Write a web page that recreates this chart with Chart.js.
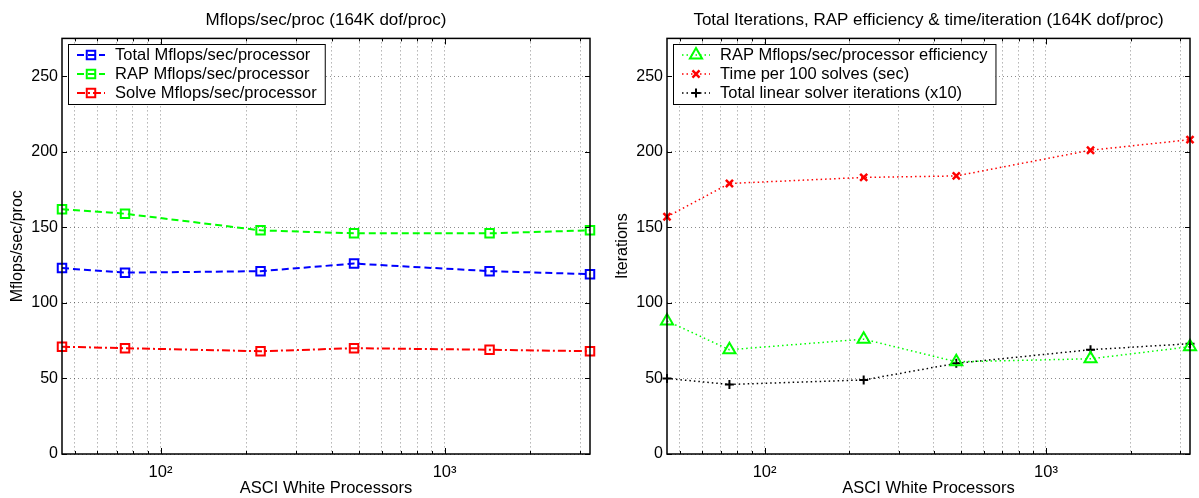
<!DOCTYPE html>
<html>
<head>
<meta charset="utf-8">
<script src="https://cdn.jsdelivr.net/npm/chart.js@4.4.1/dist/chart.umd.min.js"></script>
<style>
  html, body { margin: 0; padding: 0; background: #fff; }
  #wrap { position: relative; width: 1199px; height: 498px; }
  canvas { position: absolute; top: 0; }
  #left { left: 0; }
  #right { left: 600px; }
</style>
</head>
<body>
<div id="wrap">
  <canvas id="left" width="600" height="498"></canvas>
  <canvas id="right" width="599" height="498"></canvas>
</div>
<script>
// processor counts (log x axis)
const procs = [45, 75, 225, 480, 1440, 3250];

// left panel: Mflops/sec/proc
const totalMflops = [123, 120, 121, 126, 121, 119];
const rapMflops   = [162, 159, 148, 146, 146, 148];
const solveMflops = [71, 70, 68, 70, 69, 68];

// right panel: iterations, efficiency, time
const rapEfficiency = [88, 69, 76, 61, 63, 71];
const timePer100    = [157, 179, 183, 184, 201, 208];
const solverIters   = [50, 46, 49, 60, 69, 73];

const yTicks = [0, 50, 100, 150, 200, 250];
const decadeLabels = { 100: '10\u00b2', 1000: '10\u00b3' };
const xRange = [45, 3250];
const yRange = [0, 275];

// log grid: 1..9 x each decade inside the range
const xGridTicks = [];
[10, 100, 1000].forEach(d => {
    for (let k = 1; k <= 9; k++) {
        const v = k * d;
        if (v > xRange[0] && v < xRange[1]) xGridTicks.push(v);
    }
});

const fontFamily = '"Liberation Sans", Arial, Helvetica, sans-serif';
Chart.defaults.font.family = fontFamily;
Chart.defaults.font.size = 16;
Chart.defaults.color = '#000';

const gridColor = 'rgba(0,0,0,0.45)';

function points(values) {
    return procs.map((p, i) => ({ x: p, y: values[i] }));
}

function drawMarker(ctx, style, x, y, r, color, lw) {
    ctx.save();
    ctx.strokeStyle = color;
    ctx.lineWidth = lw;
    ctx.setLineDash([]);
    ctx.beginPath();
    if (style === 'rect') {
        const s = r * Math.SQRT1_2;
        ctx.rect(x - s, y - s, 2 * s, 2 * s);
    } else if (style === 'triangle') {
        ctx.moveTo(x, y - r);
        ctx.lineTo(x + r * 0.866, y + r / 2);
        ctx.lineTo(x - r * 0.866, y + r / 2);
        ctx.closePath();
    } else if (style === 'crossRot') {
        const s = r * Math.SQRT1_2;
        ctx.moveTo(x - s, y - s); ctx.lineTo(x + s, y + s);
        ctx.moveTo(x + s, y - s); ctx.lineTo(x - s, y + s);
    } else if (style === 'cross') {
        ctx.moveTo(x - r, y); ctx.lineTo(x + r, y);
        ctx.moveTo(x, y - r); ctx.lineTo(x, y + r);
    }
    ctx.stroke();
    ctx.restore();
}

// frame box with inward ticks (matlab style)
const framePlugin = {
    id: 'frame',
    afterDatasetsDraw(chart) {
        const { ctx, chartArea: a, scales: { x, y } } = chart;
        ctx.save();
        ctx.strokeStyle = '#000';
        ctx.setLineDash([]);
        ctx.lineWidth = 1;
        ctx.beginPath();
        x.ticks.forEach(t => {
            const px = Math.round(x.getPixelForValue(t.value)) + 0.5;
            const len = decadeLabels[t.value] ? 6 : 3;
            ctx.moveTo(px, a.bottom); ctx.lineTo(px, a.bottom - len);
            ctx.moveTo(px, a.top); ctx.lineTo(px, a.top + len);
        });
        y.ticks.forEach(t => {
            const py = Math.round(y.getPixelForValue(t.value)) + 0.5;
            ctx.moveTo(a.left, py); ctx.lineTo(a.left + 5, py);
            ctx.moveTo(a.right, py); ctx.lineTo(a.right - 5, py);
        });
        ctx.stroke();
        ctx.lineWidth = 1.5;
        ctx.strokeRect(a.left, a.top, a.right - a.left, a.bottom - a.top);
        ctx.restore();
    }
};

// boxed legend inside the plot, top-left
const boxLegendPlugin = {
    id: 'boxLegend',
    afterDraw(chart, args, opts) {
        const ctx = chart.ctx;
        const sets = chart.data.datasets;
        ctx.save();
        ctx.font = '16.5px ' + fontFamily;
        let maxW = 0;
        sets.forEach(ds => { maxW = Math.max(maxW, ctx.measureText(ds.label).width); });
        const w = opts.textX + maxW + 8 - opts.x;
        const h = opts.rowH * sets.length + 3;
        ctx.fillStyle = '#fff';
        ctx.fillRect(opts.x, opts.y, w, h);
        ctx.strokeStyle = '#000';
        ctx.lineWidth = 1;
        ctx.strokeRect(opts.x + 0.5, opts.y + 0.5, w, h);
        sets.forEach((ds, i) => {
            const ry = opts.y + opts.firstRow + i * opts.rowH;
            ctx.save();
            ctx.strokeStyle = ds.borderColor;
            ctx.lineWidth = ds.borderWidth;
            ctx.setLineDash(ds.borderDash || []);
            ctx.beginPath();
            ctx.moveTo(opts.lineFrom, ry);
            ctx.lineTo(opts.lineTo, ry);
            ctx.stroke();
            ctx.restore();
            drawMarker(ctx, ds.pointStyle, (opts.lineFrom + opts.lineTo) / 2, ry,
                ds.pointRadius, ds.pointBorderColor, ds.pointBorderWidth);
            ctx.fillStyle = '#000';
            ctx.textAlign = 'left';
            ctx.textBaseline = 'middle';
            ctx.fillText(ds.label, opts.textX, ry);
        });
        ctx.restore();
    }
};

function makeOptions(cfg) {
    return {
        responsive: false,
        animation: false,
        layout: { padding: { left: 0, right: cfg.rightPad, top: 0, bottom: 0 } },
        plugins: {
            legend: { display: false },
            tooltip: { enabled: false },
            title: {
                display: true,
                text: cfg.title,
                fullSize: false,
                color: '#000',
                font: { size: 17, weight: 'normal' },
                padding: { top: 10.5, bottom: 7.5 }
            },
            boxLegend: cfg.legend
        },
        scales: {
            x: {
                type: 'logarithmic',
                min: xRange[0],
                max: xRange[1],
                afterBuildTicks: s => { s.ticks = xGridTicks.map(v => ({ value: v })); },
                afterFit: s => { s.height = 44; },
                grid: { color: gridColor, lineWidth: 1, drawTicks: false },
                border: { display: false, dash: [1, 3] },
                ticks: {
                    autoSkip: false,
                    maxRotation: 0,
                    padding: 9,
                    color: '#000',
                    font: { size: 16.5 },
                    callback: v => decadeLabels[v] || ''
                },
                title: {
                    display: true,
                    text: 'ASCI White Processors',
                    color: '#000',
                    font: { size: 16.5 },
                    padding: { top: 0, bottom: 0 }
                }
            },
            y: {
                type: 'linear',
                min: yRange[0],
                max: yRange[1],
                afterBuildTicks: s => { s.ticks = yTicks.map(v => ({ value: v })); },
                afterFit: s => { s.width = cfg.yWidth; },
                grid: { color: gridColor, lineWidth: 1, drawTicks: false },
                border: { display: false, dash: [1, 3] },
                ticks: { padding: 4, color: '#000' },
                title: {
                    display: true,
                    text: cfg.yTitle,
                    color: '#000',
                    padding: { top: cfg.yTitlePad, bottom: 0 }
                }
            }
        }
    };
}

// Left chart
new Chart(document.getElementById('left'), {
    type: 'line',
    data: {
        datasets: [{
            label: 'Total Mflops/sec/processor',
            data: points(totalMflops),
            borderColor: '#0000ff',
            borderWidth: 2,
            borderDash: [7, 4],
            pointStyle: 'rect',
            pointRadius: 6,
            pointBorderWidth: 2,
            pointBorderColor: '#0000ff',
            pointBackgroundColor: 'rgba(0,0,0,0)',
            tension: 0,
            clip: false
        }, {
            label: 'RAP Mflops/sec/processor',
            data: points(rapMflops),
            borderColor: '#00ff00',
            borderWidth: 2,
            borderDash: [7, 4],
            pointStyle: 'rect',
            pointRadius: 6,
            pointBorderWidth: 2,
            pointBorderColor: '#00ff00',
            pointBackgroundColor: 'rgba(0,0,0,0)',
            tension: 0,
            clip: false
        }, {
            label: 'Solve Mflops/sec/processor',
            data: points(solveMflops),
            borderColor: '#ff0000',
            borderWidth: 2,
            borderDash: [8, 3, 2, 3],
            pointStyle: 'rect',
            pointRadius: 6,
            pointBorderWidth: 2,
            pointBorderColor: '#ff0000',
            pointBackgroundColor: 'rgba(0,0,0,0)',
            tension: 0,
            clip: false
        }]
    },
    options: makeOptions({
        title: 'Mflops/sec/proc (164K dof/proc)',
        yTitle: 'Mflops/sec/proc',
        yWidth: 62,
        yTitlePad: 7.5,
        rightPad: 10,
        legend: { x: 68, y: 44, rowH: 19, firstRow: 11, lineFrom: 77, lineTo: 105, textX: 115 }
    }),
    plugins: [framePlugin, boxLegendPlugin]
});

// Right chart
new Chart(document.getElementById('right'), {
    type: 'line',
    data: {
        datasets: [{
            label: 'RAP Mflops/sec/processor efficiency',
            data: points(rapEfficiency),
            borderColor: '#00ff00',
            borderWidth: 1.5,
            borderDash: [1.5, 3],
            pointStyle: 'triangle',
            pointRadius: 7,
            pointBorderWidth: 2,
            pointBorderColor: '#00ff00',
            pointBackgroundColor: 'rgba(0,0,0,0)',
            tension: 0,
            clip: false
        }, {
            label: 'Time per 100 solves (sec)',
            data: points(timePer100),
            borderColor: '#ff0000',
            borderWidth: 1.5,
            borderDash: [1.5, 3],
            pointStyle: 'crossRot',
            pointRadius: 5,
            pointBorderWidth: 2.5,
            pointBorderColor: '#ff0000',
            pointBackgroundColor: 'rgba(0,0,0,0)',
            tension: 0,
            clip: false
        }, {
            label: 'Total linear solver iterations (x10)',
            data: points(solverIters),
            borderColor: '#000000',
            borderWidth: 1.5,
            borderDash: [1.5, 3],
            pointStyle: 'cross',
            pointRadius: 4.5,
            pointBorderWidth: 2,
            pointBorderColor: '#000000',
            pointBackgroundColor: 'rgba(0,0,0,0)',
            tension: 0,
            clip: false
        }]
    },
    options: makeOptions({
        title: 'Total Iterations, RAP efficiency & time/iteration (164K dof/proc)',
        yTitle: 'Iterations',
        yWidth: 67,
        yTitlePad: 12.5,
        rightPad: 4,
        legend: { x: 73, y: 44, rowH: 19, firstRow: 11, lineFrom: 82, lineTo: 110, textX: 120 }
    }),
    plugins: [framePlugin, boxLegendPlugin]
});
</script>
</body>
</html>
